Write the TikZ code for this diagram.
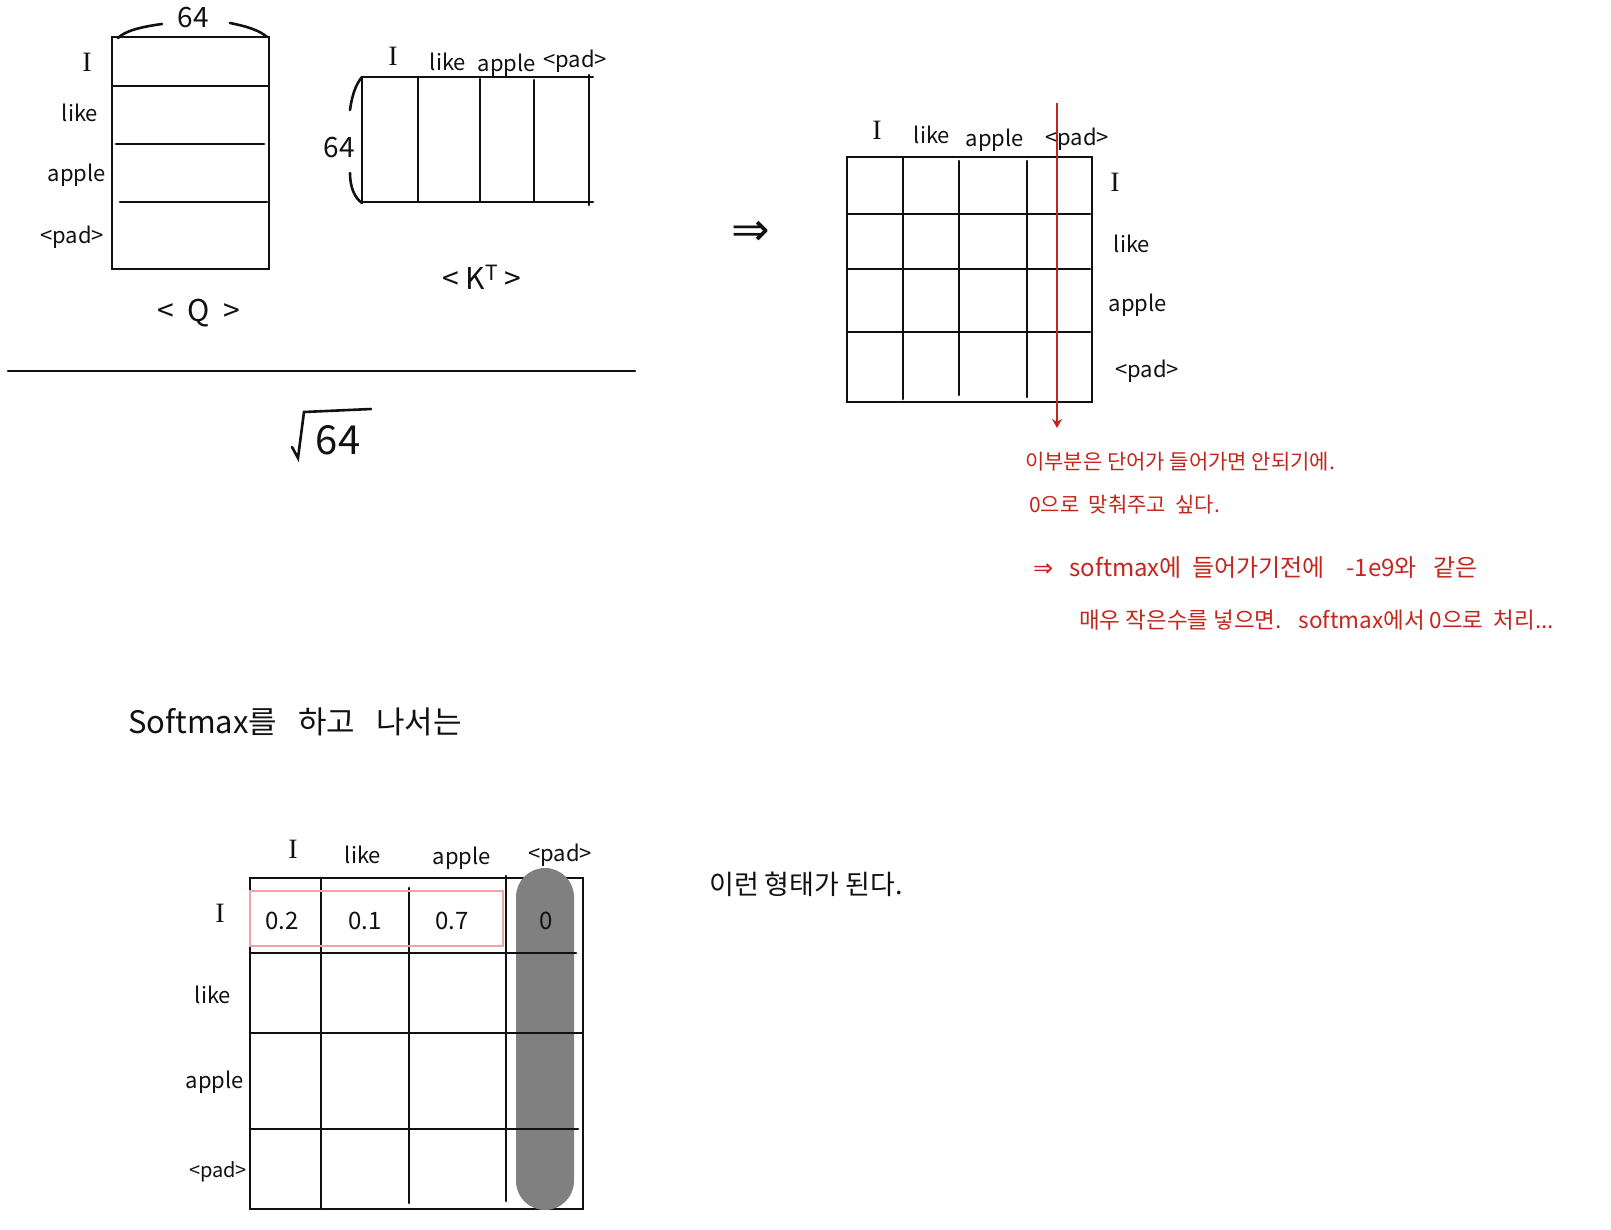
\documentclass[tikz,border=0pt]{standalone}
\usepackage{fontspec}
\setmainfont{Noto Sans CJK KR}
\newfontfamily\djv{DejaVu Sans}
\newfontfamily\serifI{Liberation Serif}
\usetikzlibrary{arrows.meta}
\definecolor{pen}{HTML}{111111}
\definecolor{redpen}{HTML}{C4261D}
\definecolor{pinkbox}{HTML}{EFA3A3}
\definecolor{pillgray}{HTML}{808080}
\tikzset{
  stroke/.style={line width=2.6pt, draw=pen, line cap=round},
  lbl/.style={font=\fontsize{22}{26}\selectfont, inner sep=0pt, text=pen},
  ilbl/.style={font=\serifI\fontsize{28}{32}\selectfont, inner sep=0pt, text=pen},
  numlbl/.style={font=\fontsize{24}{28}\selectfont, inner sep=0pt, text=pen},
  dimlbl/.style={font=\fontsize{28}{32}\selectfont, inner sep=0pt, text=pen},
  namelbl/.style={font=\fontsize{30}{34}\selectfont, inner sep=0pt, text=pen},
  rednote/.style={font=\fontsize{21}{25}\selectfont, inner sep=0pt, text=redpen, anchor=west},
  blacknote/.style={font=\fontsize{31}{36}\selectfont, inner sep=0pt, text=pen, anchor=west},
  redline/.style={line width=2.4pt, draw=redpen, -{Stealth[length=9pt,width=10pt]}},
  pinkframe/.style={line width=2.2pt, draw=pinkbox},
  pill/.style={fill=pillgray, draw=none, rounded corners=29pt}
}
\begin{document}
\begin{tikzpicture}[x=1pt,y=-1pt]
\useasboundingbox (0,0) rectangle (1611,1229);
\fill[white] (0,0) rectangle (1611,1229);

% ---------- Q matrix ----------
\draw[stroke] (112,37) rectangle (269,269);
\draw[stroke] (112,86) -- (269,86);
\draw[stroke] (116,144) -- (264,144);
\draw[stroke] (120,202) -- (267,202);
\node[ilbl] (qI) at (87,62) {I};
\node[lbl] (qlike) at (80,113) {like};
\node[lbl] (qapple) at (77,175) {apple};
\node[lbl] (qpad) at (72,237) {<pad>};
\node[dimlbl] (q64) at (193,18) {64};
\draw[stroke] (162,24) .. controls (140,27) and (125,31) .. (118,38);
\draw[stroke] (230,23) .. controls (250,27) and (260,31) .. (267,37);
\node[namelbl] (qname) at (199,313) {<\ \ Q\ \ >};

% ---------- K^T matrix ----------
\draw[stroke] (362,77) -- (593,77);
\draw[stroke] (362,202) -- (593,202);
\draw[stroke] (362,77) -- (362,202);
\draw[stroke] (589,75) -- (589,205);
\draw[stroke] (418,78) -- (418,201);
\draw[stroke] (480,79) -- (480,201);
\draw[stroke] (534,80) -- (534,201);
\node[ilbl] (kI) at (393,56) {I};
\node[lbl] (klike) at (448,62) {like};
\node[lbl] (kapple) at (507,65) {apple};
\node[lbl] (kpad) at (575,61) {<pad>};
\node[dimlbl] (k64) at (339,148) {64};
\draw[stroke] (350,110) .. controls (352,95) and (356,84) .. (362,77);
\draw[stroke] (350,173) .. controls (350,188) and (355,198) .. (362,203);
\node[namelbl] (kname) at (482,277) {<\ K\textsuperscript{T}\ >};

% ---------- fraction ----------
\draw[stroke] (8,371) -- (635,371);
\draw[stroke] (292,447) -- (298,458) -- (304,412) -- (371,409);
\node[font=\fontsize{40}{44}\selectfont, inner sep=0pt, text=pen] (r64) at (338,440) {64};

% ---------- arrow ----------
\node[font=\djv\fontsize{46}{50}\selectfont, inner sep=0pt, text=pen] (implies) at (751,233) {⇒};

% ---------- score matrix ----------
\draw[stroke] (847,157) rectangle (1092,402);
\draw[stroke] (847,214) -- (1090,214);
\draw[stroke] (847,269) -- (1090,269);
\draw[stroke] (847,332) -- (1090,332);
\draw[stroke] (903,158) -- (903,399);
\draw[stroke] (959,161) -- (959,395);
\draw[stroke] (1027,161) -- (1027,397);
\node[ilbl] (sI) at (877,130) {I};
\node[lbl] (slike) at (932,135) {like};
\node[lbl] (sapple) at (995,140) {apple};
\node[lbl] (spad) at (1077,139) {<pad>};
\node[ilbl] (rI) at (1115,182) {I};
\node[lbl] (rlike) at (1132,244) {like};
\node[lbl] (rapple) at (1138,305) {apple};
\node[lbl] (rpad) at (1147,371) {<pad>};
\coordinate (redtop) at (1057,103);
\coordinate (redbot) at (1057,428);
\draw[redline] (redtop) -- (redbot);

% ---------- red notes ----------
\node[rednote] (n1) at (1025,462) {이부분은 단어가 들어가면 안되기에.};
\node[rednote] (n2) at (1029,505) {0으로 \ 맞춰주고 \ 싶다.};
\node[rednote, font=\fontsize{24}{28}\selectfont] (n3) at (1033,568) {{\djv ⇒}\ \ \ softmax에 \ 들어가기전에 \ \ \ -1e9와 \ \ 같은};
\node[rednote, font=\fontsize{22.5}{26}\selectfont] (n4) at (1079,620) {매우 작은수를 넣으면. \ \ softmax에서 0으로 \ 처리...};

% ---------- softmax caption ----------
\node[blacknote] (cap) at (128,722) {Softmax를 \ \ 하고 \ \ 나서는};

% ---------- result matrix ----------
\draw[stroke] (250,878) rectangle (583,1209);
\fill[pill] (516,868) rectangle (574,1210);
\draw[stroke] (250,953) -- (576,953);
\draw[stroke] (250,1033) -- (582,1033);
\draw[stroke] (250,1129) -- (578,1129);
\draw[stroke] (321,878) -- (321,1209);
\draw[stroke] (409,888) -- (409,1203);
\draw[stroke] (506,876) -- (506,1201);
\draw[pinkframe] (250,891) rectangle (503,946);
\node[numlbl] (v1) at (282,921) {0.2};
\node[numlbl] (v2) at (365,921) {0.1};
\node[numlbl] (v3) at (452,921) {0.7};
\node[numlbl] (v4) at (546,921) {0};
\node[ilbl] (bI) at (220,913) {I};
\node[lbl] (blike) at (213,995) {like};
\node[lbl] (bapple) at (215,1082) {apple};
\node[lbl, font=\fontsize{20}{24}\selectfont] (bpad) at (218,1172) {<pad>};
\node[ilbl] (cI) at (293,849) {I};
\node[lbl] (clike) at (363,855) {like};
\node[lbl] (capple) at (462,858) {apple};
\node[lbl] (cpad) at (560,855) {<pad>};

% ---------- closing note ----------
\node[font=\fontsize{27}{31}\selectfont, inner sep=0pt, text=pen, anchor=west] (endnote) at (709,884) {이런 형태가 된다.};
\end{tikzpicture}
\end{document}
